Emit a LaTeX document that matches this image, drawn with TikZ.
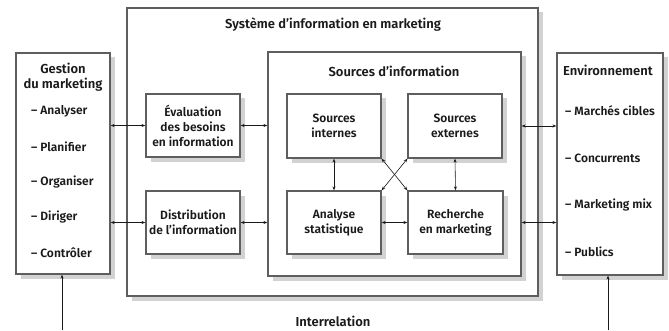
\documentclass[tikz,border=0pt]{standalone}
\usepackage{fontspec}
\setmainfont{Fira Sans}[UprightFont=* SemiBold,BoldFont=* Bold]
\usetikzlibrary{arrows.meta,shadows}
\definecolor{Ink}{HTML}{1A1A1A}
\definecolor{Frame}{HTML}{5E5E5E}
\definecolor{Shade}{HTML}{D2D2D2}

\begin{document}
\begin{tikzpicture}[x=1pt,y=1pt,
    box/.style={draw=Frame,line width=1.2pt,fill=white,
      drop shadow={shadow xshift=4.5pt,shadow yshift=-4.5pt,fill=Shade,opacity=1},
      inner sep=0pt,align=center,text=Ink,font=\fontsize{12}{15}\selectfont},
    title/.style={text=Ink,align=center,font=\fontsize{13}{15}\selectfont},
    item/.style={text=Ink,anchor=west,inner sep=0pt,font=\fontsize{12}{15}\selectfont},
    link/.style={Ink,line width=0.6pt,{Stealth[length=4pt,width=3pt]}-{Stealth[length=4pt,width=3pt]}},
    rise/.style={Ink,line width=0.6pt,-{Stealth[length=4pt,width=3pt]}}]
  \useasboundingbox (0,0) rectangle (669,330);
  \node[box,minimum width=411,minimum height=288] (sim) at (332.5,178) {};
  \node[title] (simt) at (333,305) {Système d’information en marketing};
  \node[box,minimum width=253,minimum height=224] (src) at (394.5,166) {};
  \node[title] (srct) at (394,259) {Sources d’information};
  \node[box,minimum width=94,minimum height=221] (gest) at (63,166.5) {};
  \node[title] (gestt) at (63,252.5) {Gestion\\du marketing};
  \node[box,minimum width=106,minimum height=222] (env) at (610,166) {};
  \node[title] (envt) at (608,260) {Environnement};
  \foreach \t [count=\i] in {Analyser,Planifier,Organiser,Diriger,Contrôler}
    \node[item] (g\i) at (31,{219-35.5*(\i-1)}) {– \t};
  \foreach \t [count=\i] in {Marchés cibles,Concurrents,Marketing mix,Publics}
    \node[item] (e\i) at (565,{219-47*(\i-1)}) {– \t};
  \node[box,minimum width=94,minimum height=63] (eval) at (193,204.5) {Évaluation\\des besoins\\en information};
  \node[box,minimum width=94,minimum height=63] (dist) at (193,107.5) {Distribution\\de l’information};
  \node[box,minimum width=94,minimum height=64] (int) at (334,204) {Sources\\internes};
  \node[box,minimum width=94,minimum height=64] (ext) at (455,204) {Sources\\externes};
  \node[box,minimum width=94,minimum height=63] (ana) at (334,107.5) {Analyse\\statistique};
  \node[box,minimum width=95,minimum height=63] (rech) at (455.5,107.5) {Recherche\\en marketing};
  \draw[link] (gest.east |- eval.west) -- (eval.west);
  \draw[link] (gest.east |- dist.west) -- (dist.west);
  \draw[link] (eval.east) -- (src.west |- eval.east);
  \draw[link] (dist.east) -- (src.west |- dist.east);
  \draw[link] (src.east |- ext.east) -- (env.west |- ext.east);
  \draw[link] (src.east |- rech.east) -- (env.west |- rech.east);
  \draw[link] (int.south) -- (ana.north);
  \draw[link] (ext.south) -- (rech.north);
  \draw[link] (ana.east) -- (rech.west);
  \draw[link] (int.south east) -- (rech.north west);
  \draw[link] (ext.south west) -- (ana.north east);
  \node[title] (inter) at (333,9) {Interrelation};
  \coordinate (gbase) at (62,0);
  \coordinate (ebase) at (608,0);
  \draw[rise] (gbase) -- (gbase |- gest.south);
  \draw[rise] (ebase) -- (ebase |- env.south);
\end{tikzpicture}
\end{document}
